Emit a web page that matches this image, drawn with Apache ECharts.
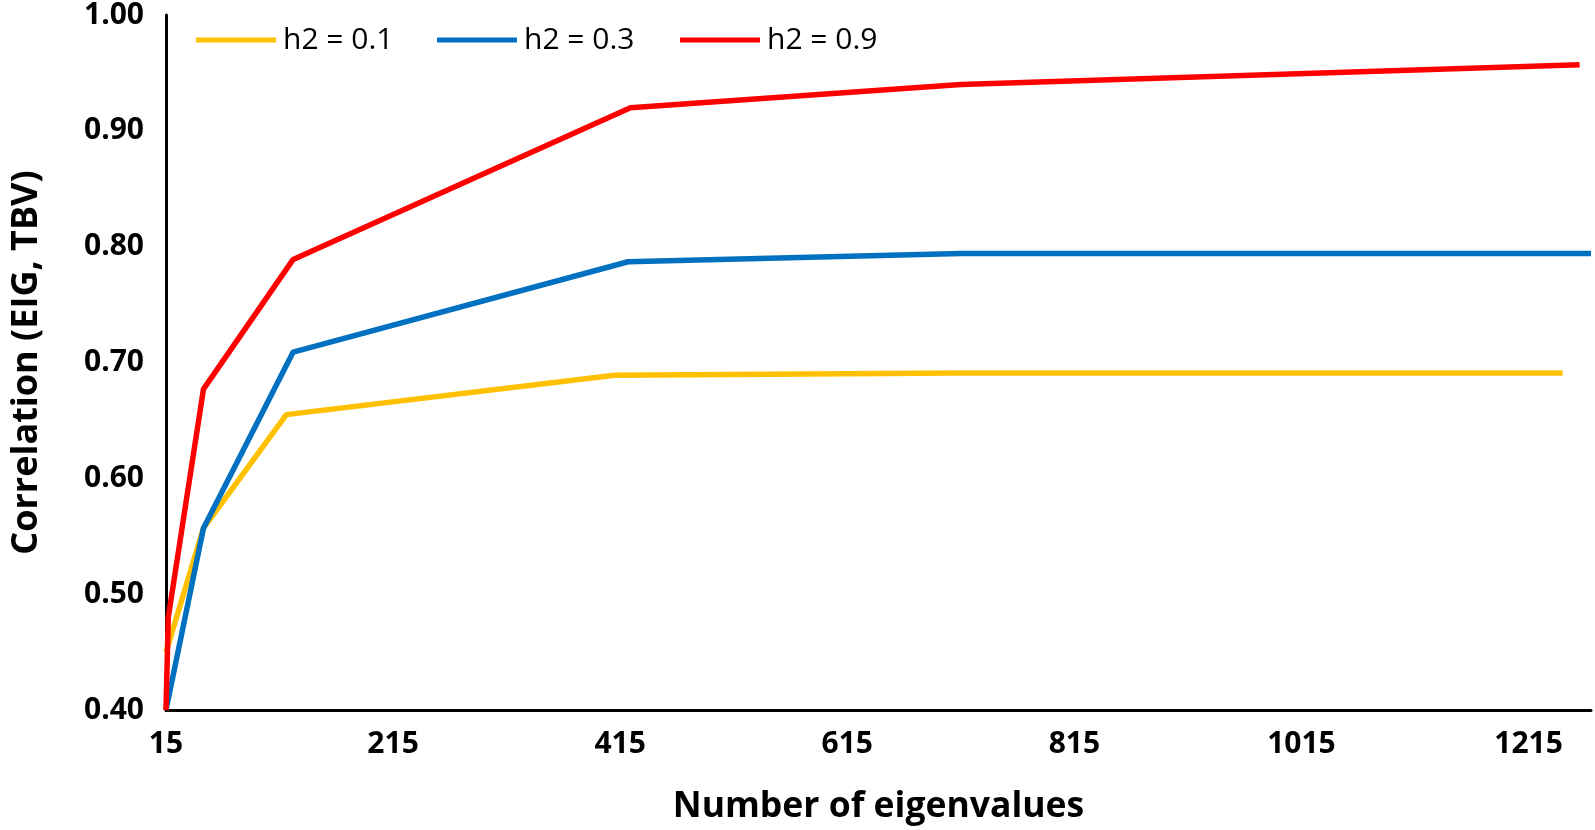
<!DOCTYPE html>
<html>
<head>
<meta charset="utf-8">
<script src="https://cdn.jsdelivr.net/npm/echarts@6/dist/echarts.min.js"></script>
<style>
html,body{margin:0;padding:0;background:#fff;}
#chart{width:1595px;height:830px;}
</style>
</head>
<body>
<div id="chart"></div>
<script>
// Series data: [number of eigenvalues, correlation]
const seriesNames = ['h2 = 0.1', 'h2 = 0.3', 'h2 = 0.9'];
const h2_01 = [[15, 0.45], [48, 0.557], [121, 0.655], [410, 0.689], [715, 0.691], [1245, 0.691]];
const h2_03 = [[15, 0.40], [48, 0.557], [127, 0.709], [422, 0.787], [715, 0.794], [1270, 0.794]];
const h2_09 = [[15, 0.40], [17, 0.48], [48, 0.677], [127, 0.789], [424, 0.920], [715, 0.940], [1260, 0.957]];
const xTicks = [15, 215, 415, 615, 815, 1015, 1215];
const yTicks = [0.40, 0.50, 0.60, 0.70, 0.80, 0.90, 1.00];
const colors = ['#FFC000', '#0070C0', '#FF0000'];

const chart = echarts.init(document.getElementById('chart'));
const fam = '"Open Sans", "Noto Sans", sans-serif';
const legendLefts = [191, 432, 675];

const option = {
  animation: false,
  backgroundColor: '#fff',
  grid: { left: 166, right: 4, top: 15, bottom: 118, containLabel: false },
  legend: seriesNames.map((n, i) => ({
    data: [n],
    left: legendLefts[i],
    top: 20,
    icon: 'rect',
    itemWidth: 80,
    itemHeight: 5,
    itemGap: 0,
    textStyle: { fontFamily: fam, fontSize: 30, color: '#000', padding: [0, 0, 0, 2] }
  })),
  xAxis: {
    type: 'value',
    min: 15,
    max: 1270,
    interval: 200,
    name: 'Number of eigenvalues',
    nameLocation: 'middle',
    nameGap: 79,
    nameTextStyle: { fontFamily: fam, fontSize: 35.5, fontWeight: 'bold', color: '#000' },
    axisLine: { show: true, lineStyle: { color: '#000', width: 3 } },
    axisTick: { show: false },
    splitLine: { show: false },
    axisLabel: {
      margin: 19,
      fontFamily: fam, fontSize: 30, fontWeight: 'bold', color: '#000',
      showMaxLabel: false,
      formatter: v => (xTicks.indexOf(v) >= 0 ? String(v) : '')
    }
  },
  yAxis: {
    type: 'value',
    min: 0.40,
    max: 1.00,
    interval: 0.10,
    name: 'Correlation (EIG, TBV)',
    nameLocation: 'middle',
    nameGap: 121,
    nameTextStyle: { fontFamily: fam, fontSize: 36, fontWeight: 'bold', color: '#000' },
    axisLine: { show: true, lineStyle: { color: '#000', width: 3 } },
    axisTick: { show: false },
    splitLine: { show: false },
    axisLabel: {
      margin: 22,
      fontFamily: fam, fontSize: 30, fontWeight: 'bold', color: '#000',
      formatter: v => v.toFixed(2)
    }
  },
  series: [h2_01, h2_03, h2_09].map((d, i) => ({
    name: seriesNames[i],
    type: 'line',
    data: d,
    showSymbol: false,
    symbol: 'none',
    color: colors[i],
    lineStyle: { color: colors[i], width: 5.5 },
    clip: true
  }))
};
chart.setOption(option);
</script>
</body>
</html>
